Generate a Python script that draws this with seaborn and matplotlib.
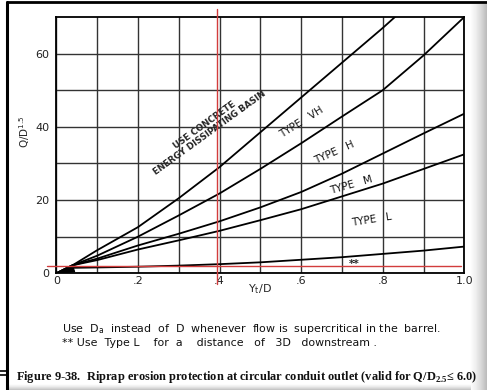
import numpy as np
import pandas as pd
import seaborn as sns
import matplotlib.pyplot as plt
from matplotlib.lines import Line2D
from matplotlib.patches import Polygon

# values
ratio_x = [0.0, 0.04, 0.1, 0.2, 0.3, 0.4, 0.5, 0.6, 0.7, 0.8, 0.9, 1.0]
concrete_limit = [0.0, 2.2, 6.3, 12.6, 20.5, 29.0, 38.5, 48.0, 57.5, 67.0, 77.0, 87.0]
type_vh = [0.0, 2.2, 4.8, 10.0, 15.8, 21.8, 28.5, 35.5, 42.8, 50.0, 59.5, 70.0]
type_h = [0.0, 2.2, 4.0, 7.6, 10.8, 14.2, 18.0, 22.2, 27.2, 32.7, 38.2, 43.6]
type_m = [0.0, 2.2, 3.6, 6.5, 9.0, 11.6, 14.5, 17.5, 21.0, 24.5, 28.5, 32.5]
type_l = [0.0, 1.5, 1.6, 1.8, 2.1, 2.5, 3.0, 3.7, 4.4, 5.3, 6.2, 7.3]

x_ticks = [0.0, 0.2, 0.4, 0.6, 0.8, 1.0]
x_ticklabels = ["0", ".2", ".4", ".6", ".8", "1.0"]
y_ticks = [0, 20, 40, 60]
y_ticklabels = ["0", "20", "40", "60"]

# red guide lines drawn on the scan
red_x = 0.393
red_y = 2.1

zone_labels = ["TYPE   VH", "TYPE   H", "TYPE   M", "TYPE   L"]
zone_pos = [(0.602, 41.2, 32), (0.682, 33.0, 24), (0.724, 24.1, 16), (0.773, 14.5, 9)]

df = pd.DataFrame({"x": ratio_x, "concrete": concrete_limit, "VH": type_vh,
                   "H": type_h, "M": type_m, "L": type_l})
long = df.melt(id_vars="x", var_name="curve", value_name="q")

sns.set_style("white")
plt.rcParams["font.family"] = ["DejaVu Sans"]

fig = plt.figure(figsize=(4.87, 3.90), dpi=100)
ax = fig.add_axes([0.1156, 0.2992, 0.9534 - 0.1156, 0.9564 - 0.2992])

sns.lineplot(data=long, x="x", y="q", units="curve", estimator=None,
             color="black", linewidth=1.3, ax=ax, legend=False)

# small solid wedge at the origin
ax.add_patch(Polygon([[0, 0], [0.04, 2.2], [0.045, 0.4]], closed=True,
                     facecolor="black", edgecolor="black", lw=0.8))

ax.set_xlim(0, 1.0)
ax.set_ylim(0, 70)
ax.set_xticks(x_ticks)
ax.set_xticklabels(x_ticklabels)
ax.set_yticks(y_ticks)
ax.set_yticklabels(y_ticklabels)
ax.set_xticks(np.arange(0.1, 1.0, 0.2), minor=True)
ax.set_yticks(np.arange(10, 70, 20), minor=True)
ax.grid(True, which="both", color="#333333", linewidth=1.0)
ax.set_axisbelow(True)
ax.tick_params(axis="both", which="both", length=0, labelsize=8, colors="#222222")
ax.tick_params(axis="x", pad=2)
ax.tick_params(axis="y", pad=5)
for sp in ax.spines.values():
    sp.set_visible(True)
    sp.set_color("black")
    sp.set_linewidth(1.3)

ax.set_xlabel("Y$_{\\mathregular{t}}$/D", fontsize=8, labelpad=-3)
ax.set_ylabel("Q/D$^{\\mathregular{1.5}}$", fontsize=7.5, va="center")
ax.yaxis.set_label_coords(-0.077, 0.551)

# zone labels
ax.text(0.37, 39.4, "USE CONCRETE\nENERGY DISSIPATING BASIN", rotation=36,
        ha="center", va="center", fontsize=6.3, fontweight="bold",
        linespacing=1.0, rotation_mode="anchor")
for lab, (tx, ty, rot) in zip(zone_labels, zone_pos):
    ax.text(tx, ty, lab, rotation=rot, ha="center", va="center",
            fontsize=7.4, rotation_mode="anchor", color="#111111")
ax.text(0.729, 2.6, "**", ha="center", va="center", fontsize=7.5, fontweight="bold")

# red guide lines
ax.plot([red_x, red_x], [-3.0, 72.3], color="#d23c3c", lw=1.0, clip_on=False, zorder=5)
ax.plot([-0.022, 0.993], [red_y, red_y], color="#d23c3c", lw=1.0, clip_on=False, zorder=5)

# notes and caption
fig.text(0.128, 1 - 329.5 / 390,
         "Use  D$_{\\mathregular{a}}$  instead  of  D  whenever  flow is  supercritical in the  barrel.",
         fontsize=7.9, va="center", ha="left", color="#111111")
fig.text(0.128, 1 - 342.5 / 390, "** Use  Type L    for  a    distance   of   3D   downstream .",
         fontsize=7.9, va="center", ha="left", color="#111111")
fig.text(0.033, 1 - 377 / 390,
         "Figure 9-38.  Riprap erosion protection at circular conduit outlet (valid for Q/D$_{\\mathregular{2.5}}$\u2264 6.0)",
         fontsize=8.9, fontweight="bold", family=["Liberation Serif", "DejaVu Serif"],
         va="center", ha="left", color="#111111")

# scanned page frame
fig.add_artist(Line2D([0.015, 0.015], [0.0, 0.995], transform=fig.transFigure, color="black", lw=2.2))
fig.add_artist(Line2D([0.015, 1.0], [0.994, 0.994], transform=fig.transFigure, color="black", lw=2.0))
shade_r = fig.add_axes([0.966, 0.0, 0.034, 0.99], zorder=-1)
shade_r.imshow(np.linspace(0, 1, 50)[None, :], aspect="auto", cmap="Greys", vmin=0, vmax=2.6)
shade_r.axis("off")
shade_b = fig.add_axes([0.017, 0.0, 0.95, 0.015], zorder=-1)
shade_b.imshow(np.linspace(0, 1, 20)[:, None], aspect="auto", cmap="Greys", vmin=0, vmax=2.8)
shade_b.axis("off")
fig.add_artist(Line2D([0.0, 0.012], [1 - 371 / 390, 1 - 371 / 390], transform=fig.transFigure, color="black", lw=1.2))
fig.add_artist(Line2D([0.0, 0.012], [1 - 375 / 390, 1 - 375 / 390], transform=fig.transFigure, color="black", lw=1.2))

fig.savefig("out.png", dpi=100)
